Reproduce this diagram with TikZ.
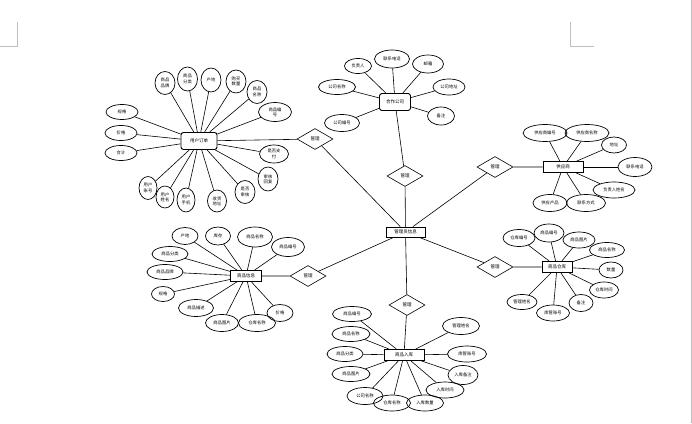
\documentclass[tikz,border=0pt]{standalone}
\usepackage{fontspec}
\newfontfamily\cjk{Noto Sans CJK SC}
\usetikzlibrary{shapes.geometric}
\tikzset{
  attrib/.style={ellipse, draw, line width=0.7pt, inner sep=0pt, align=center,
    font=\cjk\fontsize{4.3}{5.3}\selectfont},
  entround/.style={rectangle, rounded corners=2.5pt, draw, line width=0.9pt, inner sep=0pt,
    font=\cjk\fontsize{4.5}{5.5}\selectfont},
  entbox/.style={rectangle, draw, line width=0.9pt, inner sep=0pt,
    font=\cjk\fontsize{4.5}{5.5}\selectfont},
  relat/.style={diamond, draw, line width=0.6pt, inner sep=0pt, minimum width=36pt, minimum height=21pt,
    font=\cjk\fontsize{4.5}{5.5}\selectfont},
  conn/.style={draw, line width=0.6pt},
  cornermark/.style={draw=black!25, line width=0.6pt}
}
\newcommand\myatt[6]{\node[attrib, minimum width=#4pt, minimum height=#5pt] (#1) at (#2,#3) {#6};}
\begin{document}
\begin{tikzpicture}[x=1pt,y=-1pt]
\useasboundingbox (0,0) rectangle (692,423);
\fill[white] (0,0) rectangle (692,423);
% page corner marks
\coordinate (tlA) at (17,22); \coordinate (tlB) at (17,46); \coordinate (tlC) at (0,46);
\coordinate (trA) at (570,22); \coordinate (trB) at (570,46); \coordinate (trC) at (594,46);
\coordinate (reA) at (691,0); \coordinate (reB) at (691,423);
\draw[cornermark] (tlA) -- (tlB) -- (tlC);
\draw[cornermark] (trA) -- (trB) -- (trC);
\draw[cornermark] (reA) -- (reB);

% entities
\node[entround, minimum width=36pt, minimum height=17pt] (order) at (199,141) {用户订单};
\node[entround, minimum width=31pt, minimum height=17pt] (company) at (395,102) {合作公司};
\node[entbox, minimum width=40pt, minimum height=11pt] (supplier) at (563,167) {供应商};
\node[entbox, minimum width=30pt, minimum height=11pt] (store) at (557,267) {商品仓库};
\node[entbox, minimum width=31pt, minimum height=11pt] (goods) at (246,276) {商品信息};
\node[entbox, minimum width=40pt, minimum height=11pt] (inbound) at (404,355) {商品入库};
\node[entbox, minimum width=39pt, minimum height=10pt] (admin) at (405.5,232) {管理员信息};

% relationships
\node[relat] (r1) at (315,139) {管理};
\node[relat] (r2) at (405,176) {管理};
\node[relat] (r3) at (308,276) {管理};
\node[relat] (r4) at (407,305) {管理};
\node[relat] (r5) at (495,167) {管理};
\node[relat] (r6) at (495,267) {管理};
\draw[conn] (order) -- (r1) -- (admin);
\draw[conn] (company) -- (r2) -- (admin);
\draw[conn] (goods) -- (r3) -- (admin);
\draw[conn] (inbound) -- (r4) -- (admin);
\draw[conn] (supplier) -- (r5) -- (admin);
\draw[conn] (store) -- (r6) -- (admin);

% 用户订单 attributes
\myatt{o1}{165}{83}{20}{23}{商品\\品牌}
\myatt{o2}{187.5}{79}{20}{24}{商品\\分类}
\myatt{o3}{211}{80}{20}{24}{产地}
\myatt{o4}{236}{81.5}{20}{23}{购买\\数量}
\myatt{o5}{257}{92}{20}{23}{商品\\名称}
\myatt{o6}{275}{112}{33}{19}{商品编\\号}
\myatt{o7}{122}{112}{32}{15}{规格}
\myatt{o8}{121}{133}{32}{15}{价格}
\myatt{o9}{121}{153}{32}{15}{合计}
\myatt{o10}{274}{154}{29}{18}{是否支\\付}
\myatt{o11}{148}{188}{18}{23}{用户\\账号}
\myatt{o12}{165}{197}{18}{22}{用户\\姓名}
\myatt{o13}{186}{200}{18}{24}{用户\\手机}
\myatt{o14}{217}{201}{19}{22}{收货\\地址}
\myatt{o15}{245}{192}{20}{23}{是否\\审核}
\myatt{o16}{268}{179}{20}{24}{审核\\回复}
\foreach \i in {1,...,16} {\draw[conn] (o\i) -- (order);}

% 合作公司 attributes
\myatt{c1}{358}{66}{27}{15}{负责人}
\myatt{c2}{392}{59}{35}{18}{联系电话}
\myatt{c3}{428}{64}{31}{18}{邮箱}
\myatt{c4}{337}{87}{37}{15}{公司名称}
\myatt{c5}{449}{87}{32}{16}{公司地址}
\myatt{c6}{342}{123}{35}{17}{公司编号}
\myatt{c7}{441}{116}{27}{18}{备注}
\foreach \i in {1,...,7} {\draw[conn] (c\i) -- (company);}

% 供应商 attributes
\myatt{s1}{545}{133}{44}{17}{供应商编号}
\myatt{s2}{587}{133}{44}{17}{供应商名称}
\myatt{s3}{614}{145}{25}{16}{地址}
\myatt{s4}{635}{167}{34}{19}{联系电话}
\myatt{s5}{614}{190}{42}{16}{负责人姓名}
\myatt{s6}{550}{203}{34}{17}{供应产品}
\myatt{s7}{586}{203}{39}{17}{联系方式}
\foreach \i in {1,...,7} {\draw[conn] (s\i) -- (supplier);}

% 商品仓库 attributes
\myatt{w1}{519}{238}{32}{17}{仓库编号}
\myatt{w2}{549}{233}{30}{18}{商品编号}
\myatt{w3}{579}{240}{32}{16}{商品图片}
\myatt{w4}{607}{250}{35}{15}{商品名称}
\myatt{w5}{611}{270}{24}{16}{数量}
\myatt{w6}{604}{290}{29}{16}{仓库时间}
\myatt{w7}{581}{303}{24}{17}{备注}
\myatt{w8}{522}{302}{30}{15}{管理姓名}
\myatt{w9}{553}{313}{33}{16}{库管账号}
\foreach \i in {1,...,9} {\draw[conn] (w\i) -- (store);}

% 商品信息 attributes
\myatt{g1}{185}{236}{26}{17}{产地}
\myatt{g2}{218}{236}{25}{18}{库存}
\myatt{g3}{255}{237}{35}{20}{商品名称}
\myatt{g4}{288}{247}{33}{19}{商品编号}
\myatt{g5}{170}{254}{36}{15}{商品分类}
\myatt{g6}{165}{272}{36}{15}{商品品牌}
\myatt{g7}{163}{294}{23}{15}{规格}
\myatt{g8}{196}{308}{35}{17}{商品描述}
\myatt{g9}{222}{323}{33}{17}{商品图片}
\myatt{g10}{257}{323}{37}{17}{仓库名称}
\myatt{g11}{280}{313}{26}{17}{价格}
\foreach \i in {1,...,11} {\draw[conn] (g\i) -- (goods);}

% 商品入库 attributes
\myatt{i1}{352}{314}{39}{15}{商品编号}
\myatt{i2}{351}{334}{38}{15}{商品名称}
\myatt{i3}{345}{354}{36}{15}{商品分类}
\myatt{i4}{351}{374}{38}{15}{商品图片}
\myatt{i5}{365}{396}{36}{17}{公司名称}
\myatt{i6}{392}{403}{37}{16}{仓库名称}
\myatt{i7}{425}{403}{37}{16}{入库数量}
\myatt{i8}{445}{390}{38}{16}{入库时间}
\myatt{i9}{463}{375}{30}{19}{入库备注}
\myatt{i10}{467}{354}{39}{16}{库管账号}
\myatt{i11}{461}{326}{37}{17}{管理姓名}
\foreach \i in {1,...,11} {\draw[conn] (i\i) -- (inbound);}
\end{tikzpicture}
\end{document}
